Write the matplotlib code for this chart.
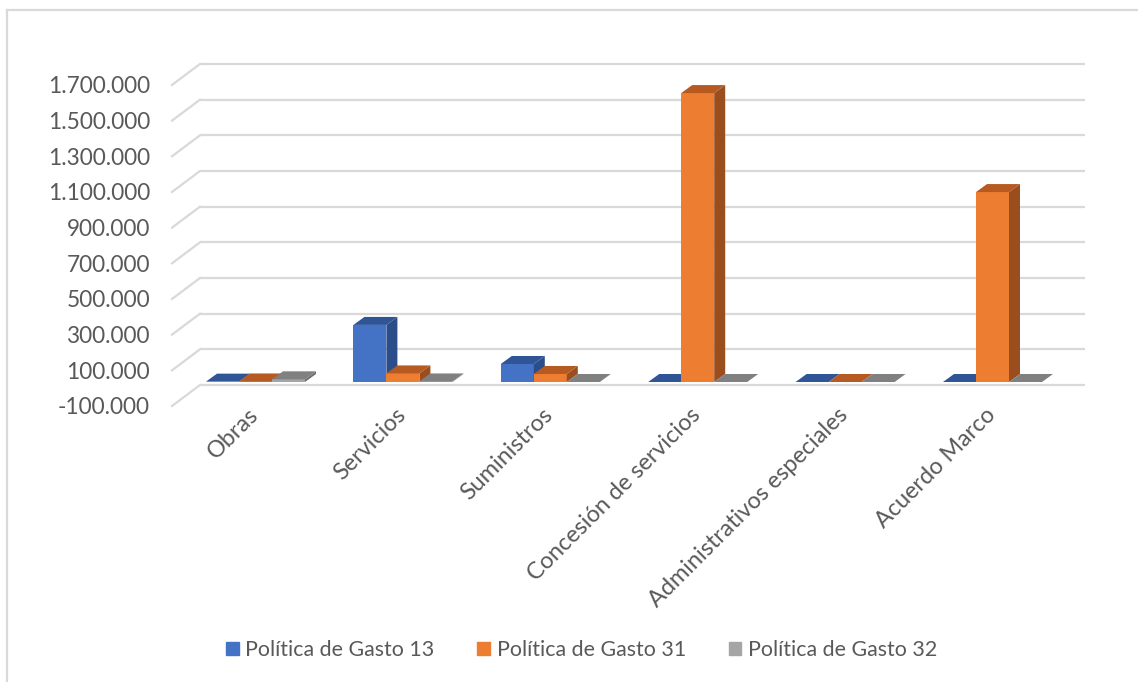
import matplotlib
matplotlib.use("Agg")
import matplotlib.pyplot as plt
from matplotlib.patches import Polygon, Patch

# data
categories = ["Obras", "Servicios", "Suministros", "Concesión de servicios",
              "Administrativos especiales", "Acuerdo Marco"]
series_names = ["Política de Gasto 13", "Política de Gasto 31", "Política de Gasto 32"]
gasto_13 = [2000, 320000, 101000, 0, 0, 0]
gasto_31 = [3000, 48000, 45000, 1620000, 0, 1065000]
gasto_32 = [15000, 3000, 0, 0, 0, 0]
ticks = [-100000, 100000, 300000, 500000, 700000, 900000, 1100000, 1300000, 1500000, 1700000]

front_colors = ["#4472C4", "#ED7D31", "#A5A5A5"]
top_colors = ["#2F5597", "#B65A22", "#808080"]
side_colors = ["#2B4D8A", "#9A4E1D", "#6E6E6E"]
text_color = "#595959"
grid_color = "#D9D9D9"

plt.rcParams["font.family"] = ["Lato", "DejaVu Sans"]

W, H = 1138, 682
fig = plt.figure(figsize=(W / 100, H / 100), dpi=100)
ax = fig.add_axes([0, 0, 1, 1])
ax.axis("off")

# pixel -> data scale (category units on x, values on y)
px_x = 147.4              # pixels per category
px_y = 200000 / 35.67     # value per pixel
x0_px = 255.5             # pixel of first category centre
ref_px, ref_val = 385, -100000  # back wall gridline of the minimum


def dx(px):
    return px / px_x


def xv(px):
    return (px - x0_px) / px_x


def yv(py):
    return ref_val + (ref_px - py) * px_y


ax.set_xlim(xv(0), xv(W))
ax.set_ylim(yv(H), yv(0))

# walls / gridlines
side_dy = 21 * px_y
x_front = xv(172)
x_back = xv(200)
x_right = xv(1085)
for v in ticks:
    ax.plot([x_back, x_right], [v, v], color=grid_color, lw=1.6, solid_capstyle="butt", zorder=1)
    ax.plot([x_front, x_back], [v - side_dy, v], color=grid_color, lw=1.6, zorder=1)
    ax.text(xv(150), v - side_dy - 2 * px_y, f"{v:,}".replace(",", "."), ha="right", va="center",
            fontsize=16.3, color=text_color)

# 3d-looking bars
bar_w = dx(33)
ddx = dx(11)
ddy = 8 * px_y
base = yv(382)
all_series = [gasto_13, gasto_31, gasto_32]
for i in range(len(categories)):
    for j, vals in enumerate(all_series):
        left = i + (j - 1.5) * bar_w
        right = left + bar_w
        top = base + vals[i]
        if vals[i] > 0:
            ax.add_patch(Polygon([(left, base), (right, base), (right, top), (left, top)],
                                 closed=True, fc=front_colors[j], ec="none", zorder=3))
            ax.add_patch(Polygon([(right, base), (right + ddx, base + ddy),
                                  (right + ddx, top + ddy), (right, top)],
                                 closed=True, fc=side_colors[j], ec="none", zorder=3))
        ax.add_patch(Polygon([(left, top), (left + ddx, top + ddy),
                              (right + ddx, top + ddy), (right, top)],
                             closed=True, fc=top_colors[j], ec="none", zorder=3))

# category labels
for i, name in enumerate(categories):
    ax.text(i - dx(8), yv(404), name, rotation=45, ha="right", va="top",
            rotation_mode="anchor", fontsize=16.8, color=text_color)

# chart border (left and top only)
ax.plot([xv(7), xv(7)], [yv(H), yv(10)], color=grid_color, lw=1.6)
ax.plot([xv(7), xv(W)], [yv(10), yv(10)], color=grid_color, lw=1.6)

handles = [Patch(color=c, label=n) for c, n in zip(front_colors, series_names)]
fig.legend(handles=handles, loc="center", bbox_to_anchor=(0.511, 1 - 650 / H), ncol=3,
           frameon=False, fontsize=15.4, handlelength=0.6, handleheight=0.6,
           handletextpad=0.3, columnspacing=2.0, labelcolor=text_color)

fig.savefig("out.png", dpi=100)
